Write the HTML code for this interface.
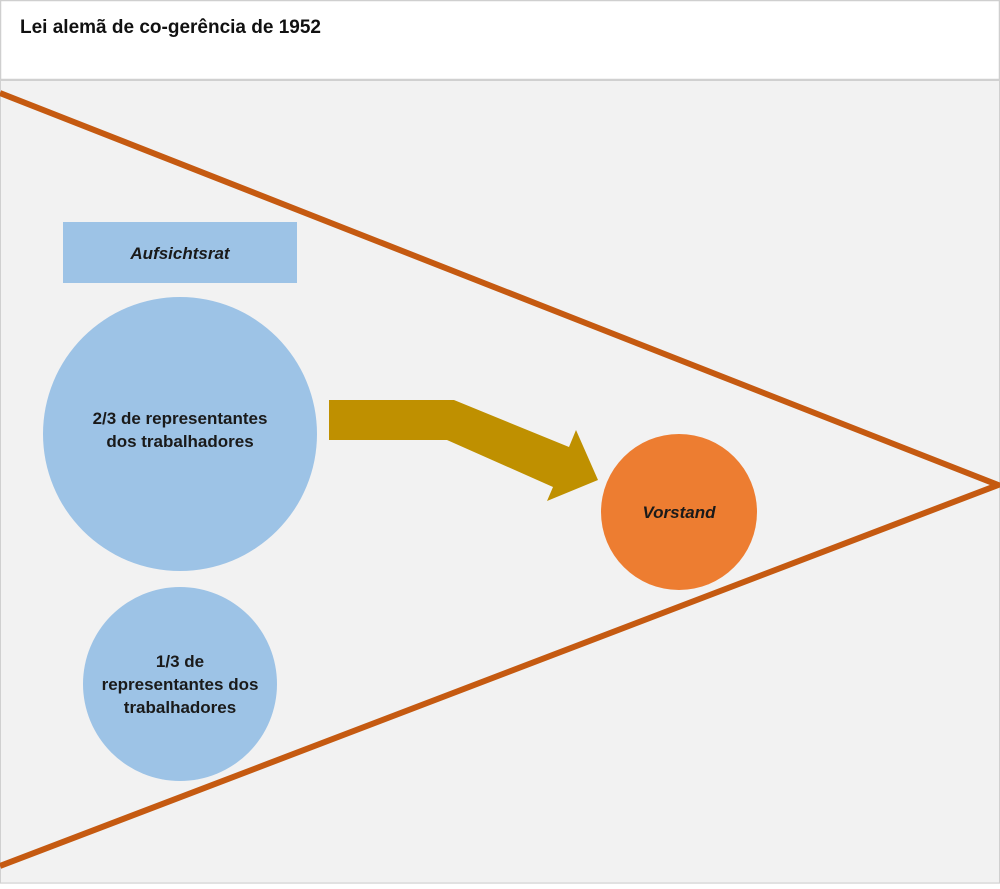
<!DOCTYPE html>
<html><head><meta charset="utf-8"><style>
body{margin:0;width:1000px;height:884px;overflow:hidden;font-family:"Liberation Sans",sans-serif;}
</style></head><body>
<svg width="1000" height="884" xmlns="http://www.w3.org/2000/svg">
<rect x="0" y="0" width="1000" height="884" fill="#f2f2f2"/>
<rect x="0.5" y="0.5" width="999" height="79" fill="#ffffff" stroke="#cfcfcf" stroke-width="1.5"/>
<line x1="0" y1="80" x2="1000" y2="80" stroke="#d0d0d0" stroke-width="2"/>
<rect x="0.5" y="80" width="999" height="803" fill="none" stroke="#d0d0d0" stroke-width="1"/>
<text x="20" y="33" font-size="19" font-weight="bold" fill="#111">Lei alemã de co-gerência de 1952</text>
<polyline points="0,93 998,485 0,866" fill="none" stroke="#c55a11" stroke-width="6"/>
<rect x="63" y="222" width="234" height="61" fill="#9dc3e6"/>
<text x="180" y="259" font-size="17" font-weight="bold" font-style="italic" text-anchor="middle" fill="#1a1a1a">Aufsichtsrat</text>
<circle cx="180" cy="434" r="137" fill="#9dc3e6"/>
<text x="180" y="424" font-size="17" font-weight="bold" text-anchor="middle" fill="#1a1a1a">2/3 de representantes</text>
<text x="180" y="447" font-size="17" font-weight="bold" text-anchor="middle" fill="#1a1a1a">dos trabalhadores</text>
<circle cx="180" cy="684" r="97" fill="#9dc3e6"/>
<text x="180" y="667" font-size="17" font-weight="bold" text-anchor="middle" fill="#1a1a1a">1/3 de</text>
<text x="180" y="690" font-size="17" font-weight="bold" text-anchor="middle" fill="#1a1a1a">representantes dos</text>
<text x="180" y="713" font-size="17" font-weight="bold" text-anchor="middle" fill="#1a1a1a">trabalhadores</text>
<polygon points="329,400 454,400 569,447 576,430 598,480 547,501 553,487 447,440 329,440" fill="#bf9000"/>
<circle cx="679" cy="512" r="78" fill="#ed7d31"/>
<text x="679" y="518" font-size="17" font-weight="bold" font-style="italic" text-anchor="middle" fill="#1a1a1a">Vorstand</text>
</svg>
</body></html>
